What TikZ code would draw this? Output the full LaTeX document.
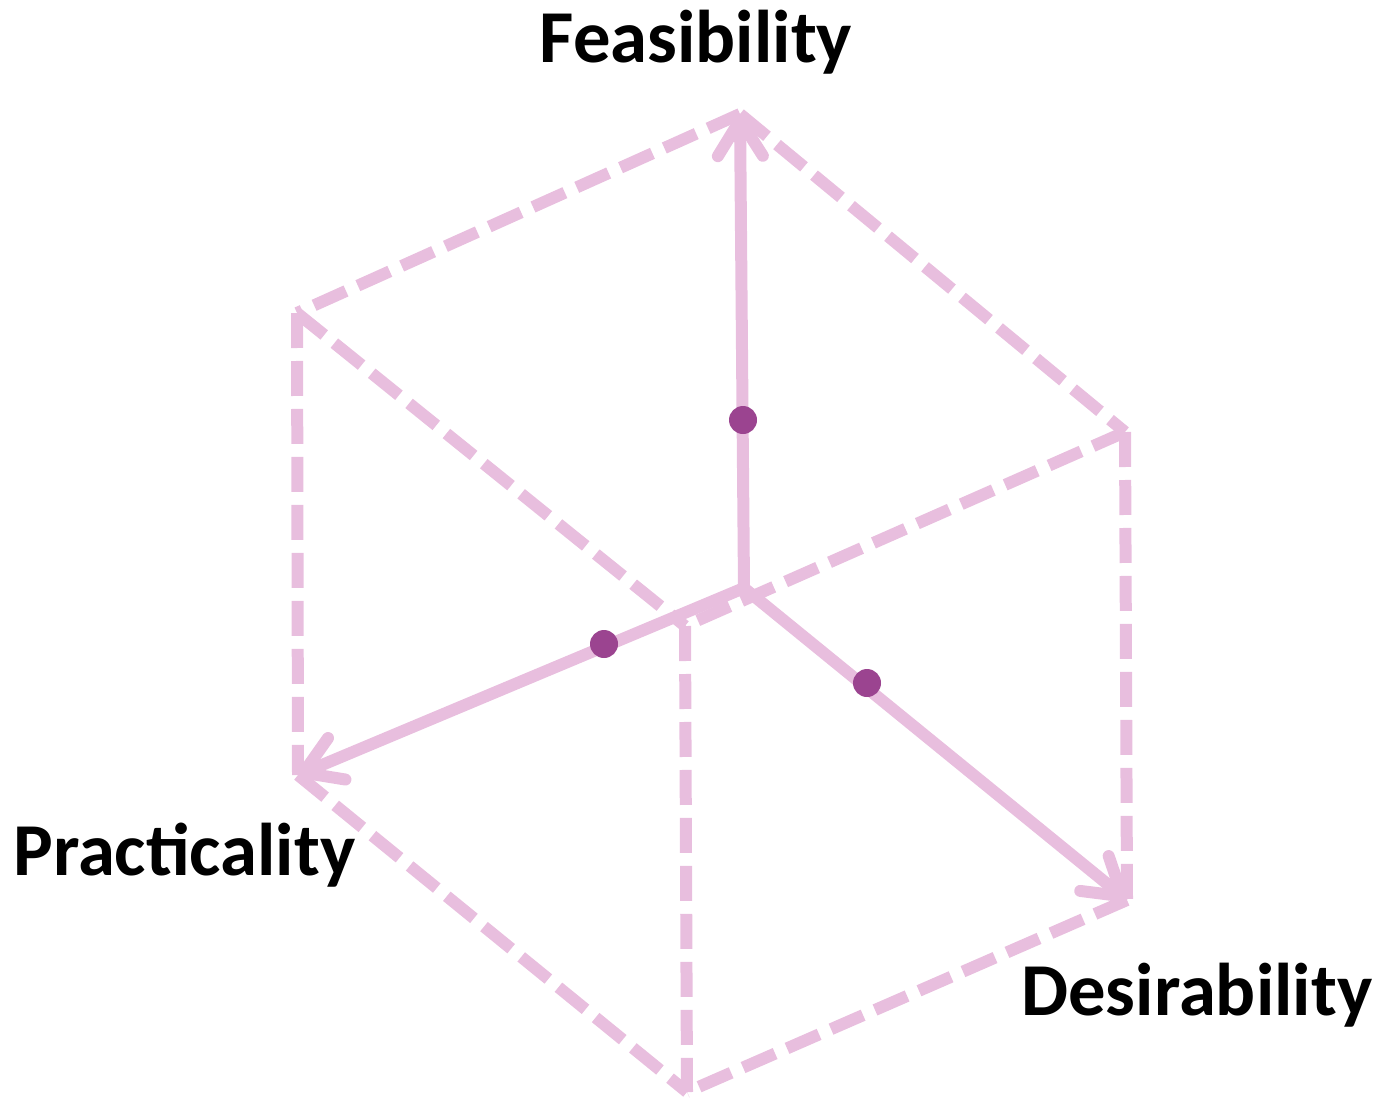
\documentclass[tikz,border=0pt]{standalone}
\usepackage{fontspec}
\setmainfont{Carlito}
\usetikzlibrary{arrows.meta}
\definecolor{pink}{HTML}{E8BEDE}
\definecolor{plum}{HTML}{9B4490}
\tikzset{
  edge/.style={draw=pink, line width=0.24cm, dash pattern=on 0.7cm off 0.26cm},
  axis/.style={draw=pink, line width=0.24cm, line cap=round,
    -{Straight Barb[length=0.72cm, width=0.9cm, round]}},
  dot/.style={circle, fill=plum, inner sep=0pt, minimum size=0.56cm},
  label/.style={font=\fontsize{42.5}{50}\selectfont\bfseries, inner sep=0pt}
}
\begin{document}
\begin{tikzpicture}[x=0.02cm, y=-0.02cm]
\useasboundingbox (0,0) rectangle (1378,1099);
% cube corners
\coordinate (top) at (740,114);
\coordinate (upleft) at (297,313);
\coordinate (upright) at (1125,432);
\coordinate (inner) at (685,626);
\coordinate (lowleft) at (298,775);
\coordinate (lowright) at (1127,900);
\coordinate (bottom) at (687,1092);
\coordinate (origin) at (744,588);
% hidden edges
\draw[edge] (top) -- (upleft);
\draw[edge] (top) -- (upright);
\draw[edge] (upleft) -- (lowleft);
\draw[edge] (upright) -- (lowright);
\draw[edge] (upleft) -- (inner);
\draw[edge] (upright) -- (inner);
\draw[edge] (inner) -- (bottom);
\draw[edge] (lowleft) -- (bottom);
\draw[edge] (lowright) -- (bottom);
% axes
\draw[axis] (origin) -- (top);
\draw[axis] (origin) -- (lowleft);
\draw[axis] (origin) -- (lowright);
% points
\node[dot] (feasdot) at (743,420) {};
\node[dot] (practdot) at (604,644) {};
\node[dot] (desdot) at (867,683) {};
% labels
\node[label, anchor=base] (feas) at (696,62) {Feasibility};
\node[label, anchor=base west] (pract) at (13,875) {Practicality};
\node[label, anchor=base west] (des) at (1021,1015) {Desirability};
\end{tikzpicture}
\end{document}
